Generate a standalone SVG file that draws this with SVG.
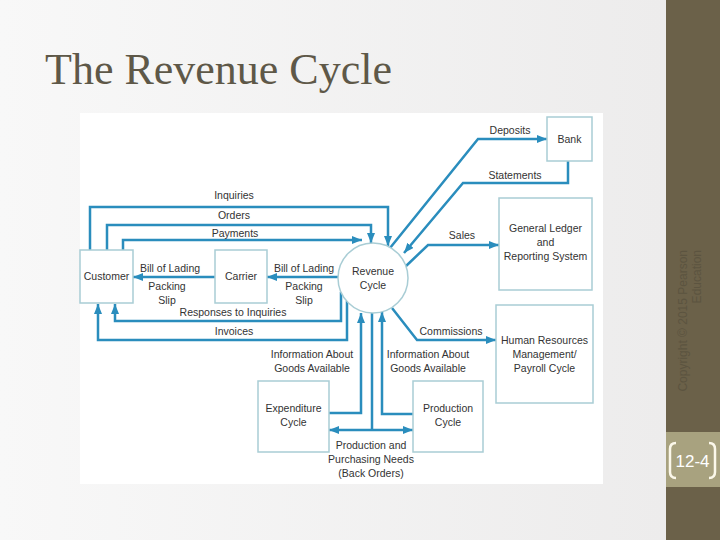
<svg xmlns="http://www.w3.org/2000/svg" width="720" height="540" viewBox="0 0 720 540">
<defs>
<linearGradient id="bg" x1="0" y1="0" x2="1" y2="0">
<stop offset="0" stop-color="#f8f8f8"/>
<stop offset="1" stop-color="#ecebeb"/>
</linearGradient>
<marker id="ah" viewBox="0 0 10 8" markerWidth="10" markerHeight="8" refX="10" refY="4" orient="auto-start-reverse" markerUnits="userSpaceOnUse">
<path d="M0,0 L10,4 L0,8 z" fill="#2a8dbd"/>
</marker>
<style>
.box{fill:#fff;stroke:#a9cdd5;stroke-width:1.5}
.lbl{font-family:"Liberation Sans",Arial,sans-serif;font-size:10.5px;fill:#333;text-anchor:middle}
.cn{fill:none;stroke:#2a8dbd;stroke-width:2.5;stroke-linejoin:miter}
.ar{marker-end:url(#ah)}
</style>
</defs>
<rect x="0" y="0" width="720" height="540" fill="url(#bg)"/>
<rect x="666" y="0" width="54" height="540" fill="#6b6149"/>
<rect x="666" y="432" width="54" height="55" fill="#a8a27f"/>
<path d="M676,443 Q670,443 670,449 V472 Q670,478 676,478 M709,443 Q715,443 715,449 V472 Q715,478 709,478" fill="none" stroke="#fbf8ea" stroke-width="2.5"/>
<text x="692.5" y="467" font-family="Liberation Sans,Arial,sans-serif" font-size="17" fill="#ffffff" text-anchor="middle">12-4</text>
<g font-family="Liberation Sans,Arial,sans-serif" font-size="12" fill="#5c5440" text-anchor="end">
<text transform="translate(687,250) rotate(-90)">Copyright © 2015 Pearson</text>
<text transform="translate(701,250) rotate(-90)">Education</text>
</g>
<text x="45" y="84" font-family="Liberation Serif,'Times New Roman',serif" font-size="44" fill="#5e5848">The Revenue Cycle</text>
<rect x="80" y="113" width="523" height="371" fill="#ffffff"/>

<g id="connectors">
<path class="cn ar" d="M90,250 V207 H388 V246"/>
<path class="cn ar" d="M107,250 V225 H371 V243"/>
<path class="cn ar" d="M123,250 V240 H362"/>
<path class="cn ar" d="M338,277 H267"/>
<path class="cn ar" d="M215,277 H133"/>
<path class="cn ar" d="M341,292 V321 H115 V304"/>
<path class="cn ar" d="M347,301 V340 H98 V304"/>
<path class="cn ar" d="M329,413 H361 V313"/>
<path class="cn ar" d="M413,414 H382 V312"/>
<path class="cn" d="M372,313 V430"/>
<path class="cn ar" d="M329,430 H413" marker-start="url(#ah)"/>
<path class="cn ar" d="M392,308 L417,340 H496"/>
<path class="cn ar" d="M405,267 L428,245 H499"/>
<path class="cn ar" d="M390,248 L478,139 H547"/>
<path class="cn ar" d="M568,161 V183 H463 L404,253"/>
</g>

<g id="labels">
<text class="lbl" x="234" y="199">Inquiries</text>
<text class="lbl" x="234" y="219">Orders</text>
<text class="lbl" x="235" y="237">Payments</text>
<text class="lbl" x="170" y="272">Bill of Lading</text>
<text class="lbl" x="167" y="290">Packing</text>
<text class="lbl" x="167" y="304">Slip</text>
<text class="lbl" x="304" y="272">Bill of Lading</text>
<text class="lbl" x="304" y="290">Packing</text>
<text class="lbl" x="304" y="304">Slip</text>
<text class="lbl" x="233" y="316">Responses to Inquiries</text>
<text class="lbl" x="234" y="335">Invoices</text>
<text class="lbl" x="510" y="134">Deposits</text>
<text class="lbl" x="515" y="179">Statements</text>
<text class="lbl" x="462" y="239">Sales</text>
<text class="lbl" x="451" y="335">Commissions</text>
<text class="lbl" x="312" y="358">Information About</text>
<text class="lbl" x="312" y="372">Goods Available</text>
<text class="lbl" x="428" y="358">Information About</text>
<text class="lbl" x="428" y="372">Goods Available</text>
<text class="lbl" x="371" y="449">Production and</text>
<text class="lbl" x="371" y="463">Purchasing Needs</text>
<text class="lbl" x="371" y="477">(Back Orders)</text>
</g>

<g id="customer"><rect class="box" x="80" y="250" width="53" height="53"/><text class="lbl" x="106.5" y="280">Customer</text></g>
<g id="carrier"><rect class="box" x="215" y="250" width="52" height="53"/><text class="lbl" x="241" y="280">Carrier</text></g>
<g id="revenue-cycle"><circle cx="373" cy="278" r="35" fill="#fff" stroke="#a9cdd5" stroke-width="1.5"/><text class="lbl" x="373" y="275">Revenue</text><text class="lbl" x="373" y="289">Cycle</text></g>
<g id="bank"><rect class="box" x="547" y="117" width="45" height="44"/><text class="lbl" x="569.5" y="143">Bank</text></g>
<g id="general-ledger"><rect class="box" x="499" y="198" width="93" height="92"/><text class="lbl" x="545.5" y="232">General Ledger</text><text class="lbl" x="545.5" y="246">and</text><text class="lbl" x="545.5" y="260">Reporting System</text></g>
<g id="hr-payroll"><rect class="box" x="496" y="305" width="97" height="98"/><text class="lbl" x="544.5" y="344">Human Resources</text><text class="lbl" x="544.5" y="358">Management/</text><text class="lbl" x="544.5" y="372">Payroll Cycle</text></g>
<g id="expenditure-cycle"><rect class="box" x="258" y="381" width="71" height="71"/><text class="lbl" x="293.5" y="412">Expenditure</text><text class="lbl" x="293.5" y="426">Cycle</text></g>
<g id="production-cycle"><rect class="box" x="413" y="381" width="70" height="71"/><text class="lbl" x="448" y="412">Production</text><text class="lbl" x="448" y="426">Cycle</text></g>
</svg>
